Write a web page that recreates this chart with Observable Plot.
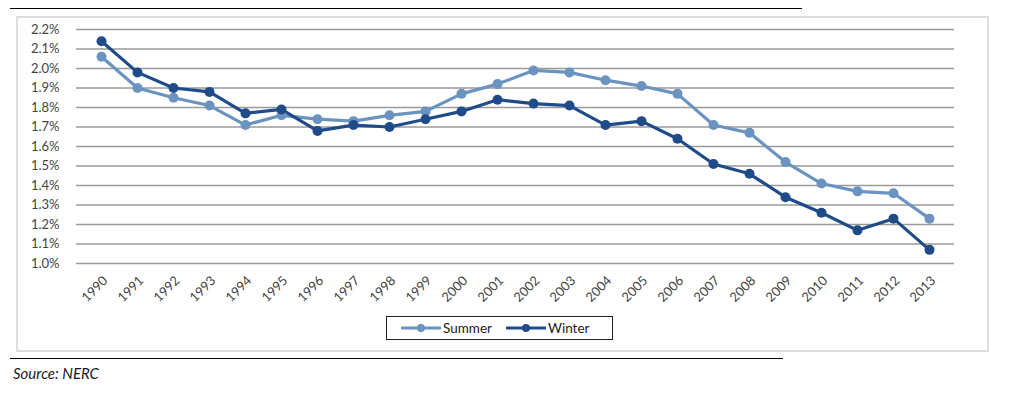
<!DOCTYPE html>
<html>
<head>
<meta charset="utf-8">
<script src="https://cdn.jsdelivr.net/npm/d3@7"></script>
<script src="https://cdn.jsdelivr.net/npm/@observablehq/plot@0.6"></script>
<style>
  html, body { margin: 0; padding: 0; background: #fff; width: 1019px; height: 395px; overflow: hidden; }
  body { position: relative; font-family: Lato, "Open Sans", sans-serif; }
  .rule { position: absolute; height: 0; border-top: 1.3px solid #000; }
  #box { position: absolute; left: 16px; top: 16px; width: 969px; height: 332px; border: 2px solid #dedede; box-sizing: content-box; }
  #chart { position: absolute; left: 16px; top: 16px; }
  #legend { position: absolute; left: 386px; top: 316px; width: 225px; height: 22px; border: 1.5px solid #222;
            display: flex; align-items: center; font-size: 13.5px; color: #222; }
  #legend .item { display: flex; align-items: center; margin-left: 14px; }
  #legend .item + .item { margin-left: 14px; }
  #legend svg { margin-right: 2px; }
  #source { position: absolute; left: 13px; top: 364px; font-style: italic; font-size: 15px; color: #1a1a1a; }
</style>
</head>
<body>
<div class="rule" style="left:10px; top:8px; width:792px;"></div>
<div id="box"></div>
<div id="chart"></div>
<div id="legend"></div>
<div class="rule" style="left:10px; top:358px; width:773px;"></div>
<div id="source">Source: NERC</div>
<script>
const years = [1990,1991,1992,1993,1994,1995,1996,1997,1998,1999,2000,2001,2002,2003,2004,2005,2006,2007,2008,2009,2010,2011,2012,2013];
const summer = [2.06,1.90,1.85,1.81,1.71,1.76,1.74,1.73,1.76,1.78,1.87,1.92,1.99,1.98,1.94,1.91,1.87,1.71,1.67,1.52,1.41,1.37,1.36,1.23];
const winter = [2.14,1.98,1.90,1.88,1.77,1.79,1.68,1.71,1.70,1.74,1.78,1.84,1.82,1.81,1.71,1.73,1.64,1.51,1.46,1.34,1.26,1.17,1.23,1.07];
const yTicks = [1.0,1.1,1.2,1.3,1.4,1.5,1.6,1.7,1.8,1.9,2.0,2.1,2.2];
const seriesNames = ["Summer", "Winter"];
const seriesColors = ["#6a93bf", "#1f4c88"];

const rows = [];
years.forEach((yr, i) => {
  rows.push({year: yr, value: summer[i], series: "Summer"});
  rows.push({year: yr, value: winter[i], series: "Winter"});
});

const chart = Plot.plot({
  width: 971,
  height: 300,
  marginLeft: 60,
  marginRight: 33,
  marginTop: 13,
  marginBottom: 53,
  style: { fontFamily: "Lato, 'Open Sans', sans-serif", fontSize: "13px", color: "#444", background: "transparent" },
  x: { type: "point", domain: years, padding: 0.5, label: null },
  y: { domain: [1.0, 2.2], label: null },
  color: { domain: seriesNames, range: seriesColors },
  marks: [
    Plot.ruleY(yTicks, { stroke: "#9a9a9a", strokeWidth: 1.6 }),
    Plot.axisY(yTicks, { tickSize: 0, tickPadding: 17, tickFormat: d => d.toFixed(1) + "%", fontSize: 13, fill: "#444" }),
    Plot.axisX(years, { tickSize: 0, tickRotate: -45, tickPadding: 6, tickFormat: d => String(d), fontSize: 13, fill: "#444", dx: 4, dy: 9 }),
    Plot.line(rows, { x: "year", y: "value", z: "series", stroke: "series", strokeWidth: 3.2 }),
    Plot.dot(rows, { x: "year", y: "value", fill: "series", r: 5, stroke: null })
  ]
});
document.getElementById("chart").appendChild(chart);

const legend = document.getElementById("legend");
seriesNames.forEach((name, i) => {
  const item = document.createElement("div");
  item.className = "item";
  item.innerHTML = `<svg width="40" height="10"><line x1="0" y1="5" x2="40" y2="5" stroke="${seriesColors[i]}" stroke-width="3"/><circle cx="20" cy="5" r="4" fill="${seriesColors[i]}"/></svg><span>${name}</span>`;
  legend.appendChild(item);
});
</script>
</body>
</html>
